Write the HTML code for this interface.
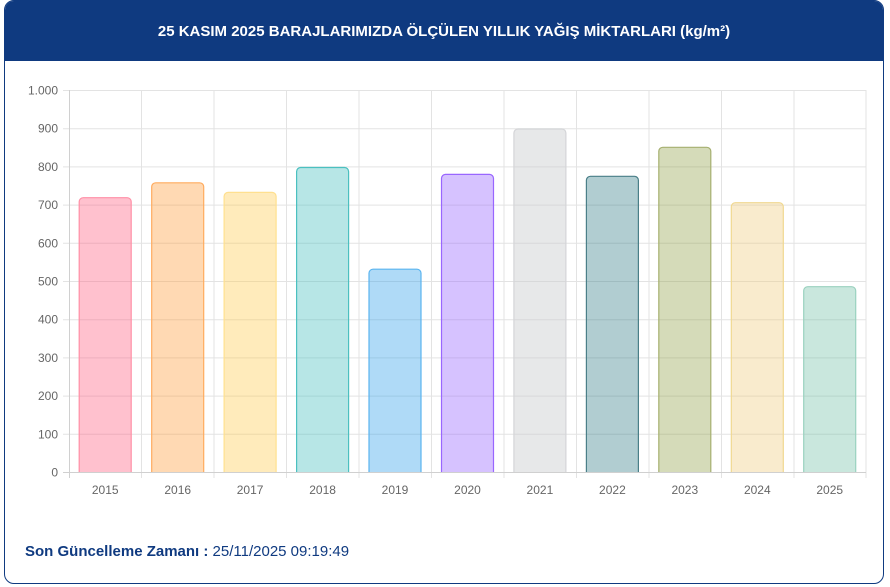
<!DOCTYPE html>
<html><head><meta charset="utf-8"><style>
html,body{margin:0;padding:0;background:#fff;width:890px;height:587px;overflow:hidden}
.card{position:absolute;left:4px;top:0;width:880px;height:584px;border:1px solid #0f3a80;border-radius:10px;overflow:hidden;box-sizing:border-box}
.hdr{position:absolute;left:0;top:0;width:100%;height:60px;background:#0f3a80;color:#fff;font:bold 15px "Liberation Sans",sans-serif;text-align:center;line-height:62px}
.foot{position:absolute;left:25px;top:543px;font:15px "Liberation Sans",sans-serif;color:#0f3a80}
svg{position:absolute;left:0;top:0}
</style></head><body>
<div class="card"><div class="hdr">25 KASIM 2025 BARAJLARIMIZDA ÖLÇÜLEN YILLIK YAĞIŞ MİKTARLARI (kg/m²)</div></div>
<svg width="890" height="587" font-family="Liberation Sans, sans-serif" font-size="12" fill="#666">
<g stroke="#e3e3e3" stroke-width="1">
<line x1="63" x2="866" y1="90.5" y2="90.5"/><line x1="63" x2="866" y1="128.7" y2="128.7"/><line x1="63" x2="866" y1="166.9" y2="166.9"/><line x1="63" x2="866" y1="205.1" y2="205.1"/><line x1="63" x2="866" y1="243.3" y2="243.3"/><line x1="63" x2="866" y1="281.5" y2="281.5"/><line x1="63" x2="866" y1="319.7" y2="319.7"/><line x1="63" x2="866" y1="357.9" y2="357.9"/><line x1="63" x2="866" y1="396.1" y2="396.1"/><line x1="63" x2="866" y1="434.3" y2="434.3"/>
<line x1="141.5" x2="141.5" y1="90" y2="478"/><line x1="214" x2="214" y1="90" y2="478"/><line x1="286.5" x2="286.5" y1="90" y2="478"/><line x1="359" x2="359" y1="90" y2="478"/><line x1="431.5" x2="431.5" y1="90" y2="478"/><line x1="504" x2="504" y1="90" y2="478"/><line x1="576.5" x2="576.5" y1="90" y2="478"/><line x1="649" x2="649" y1="90" y2="478"/><line x1="721.5" x2="721.5" y1="90" y2="478"/><line x1="794" x2="794" y1="90" y2="478"/><line x1="866" x2="866" y1="90" y2="478"/>
</g>
<g stroke="#d0d0d0"><line x1="69.5" x2="69.5" y1="90" y2="478"/><line x1="63" x2="866" y1="472.5" y2="472.5"/></g>
<g stroke-width="1.2">
<path d="M79.2,472V201.7a4,4 0 0 1 4,-4H127.2a4,4 0 0 1 4,4V472" fill="rgba(255,99,132,0.4)" stroke="#ff8fa6"/>
<path d="M151.7,472V186.8a4,4 0 0 1 4,-4H199.7a4,4 0 0 1 4,4V472" fill="rgba(255,159,64,0.4)" stroke="#ffab5e"/>
<path d="M224.1,472V196.4a4,4 0 0 1 4,-4H272.1a4,4 0 0 1 4,4V472" fill="rgba(255,205,86,0.4)" stroke="#ffe08f"/>
<path d="M296.6,472V171.5a4,4 0 0 1 4,-4H344.6a4,4 0 0 1 4,4V472" fill="rgba(75,192,192,0.4)" stroke="#4bc0c0"/>
<path d="M369,472V273.2a4,4 0 0 1 4,-4H417a4,4 0 0 1 4,4V472" fill="rgba(54,162,235,0.4)" stroke="#5ab4ef"/>
<path d="M441.5,472V178.4a4,4 0 0 1 4,-4H489.5a4,4 0 0 1 4,4V472" fill="rgba(153,102,255,0.4)" stroke="#9966ff"/>
<path d="M513.9,472V133a4,4 0 0 1 4,-4H561.9a4,4 0 0 1 4,4V472" fill="rgba(201,203,207,0.45)" stroke="#d4d5d8"/>
<path d="M586.4,472V180.3a4,4 0 0 1 4,-4H634.4a4,4 0 0 1 4,4V472" fill="rgba(60,130,140,0.4)" stroke="#4a7f88"/>
<path d="M658.8,472V151.3a4,4 0 0 1 4,-4H706.8a4,4 0 0 1 4,4V472" fill="rgba(150,165,80,0.4)" stroke="#a6b070"/>
<path d="M731.3,472V206.7a4,4 0 0 1 4,-4H779.3a4,4 0 0 1 4,4V472" fill="rgba(240,205,130,0.4)" stroke="#f0d890"/>
<path d="M803.7,472V290.7a4,4 0 0 1 4,-4H851.7a4,4 0 0 1 4,4V472" fill="rgba(120,195,170,0.4)" stroke="#9ad1bf"/>
</g>
<g text-anchor="end">
<text x="58" y="94.5">1.000</text><text x="58" y="132.7">900</text><text x="58" y="170.9">800</text><text x="58" y="209.1">700</text><text x="58" y="247.3">600</text><text x="58" y="285.5">500</text><text x="58" y="323.7">400</text><text x="58" y="361.9">300</text><text x="58" y="400.1">200</text><text x="58" y="438.3">100</text><text x="58" y="476.5">0</text>
</g>
<g text-anchor="middle">
<text x="105.2" y="494">2015</text><text x="177.7" y="494">2016</text><text x="250.1" y="494">2017</text><text x="322.6" y="494">2018</text><text x="395" y="494">2019</text><text x="467.5" y="494">2020</text><text x="539.9" y="494">2021</text><text x="612.4" y="494">2022</text><text x="684.8" y="494">2023</text><text x="757.3" y="494">2024</text><text x="829.7" y="494">2025</text>
</g>
</svg>
<div class="foot"><b>Son Güncelleme Zamanı :</b> 25/11/2025 09:19:49</div>
</body></html>
